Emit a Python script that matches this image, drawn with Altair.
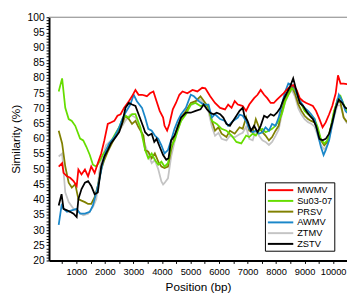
import altair as alt
import pandas as pd

series_names = ["MWMV", "Su03-07", "PRSV", "AWMV", "ZTMV", "ZSTV"]
series_colors = ["#ff0000", "#66dd00", "#808000", "#1a87c9", "#c4c4c4", "#000000"]

mwmv_pos = [380, 500, 550, 670, 780, 900, 1010, 1070, 1180, 1300, 1410, 1520, 1640, 1750, 1870, 1980,
            2100, 2210, 2330, 2440, 2550, 2670, 2840, 2950, 3070, 3180, 3300, 3410, 3470, 3580, 3700,
            3810, 3920, 4040, 4090, 4180, 4260, 4380, 4490, 4610, 4720, 4890, 5070, 5240, 5410, 5520,
            5690, 5860, 6040, 6210, 6320, 6440, 6550, 6660, 6760, 6830, 6950, 7060, 7230, 7350, 7460,
            7580, 7690, 7810, 7920, 8030, 8150, 8260, 8370, 8490, 8600, 8720, 8830, 8950, 9060, 9180,
            9290, 9400, 9520, 9630, 9740, 9860, 9970, 10090, 10170, 10260, 10370, 10490]
mwmv_val = [50.9, 52.0, 48.8, 47.7, 47.2, 46.1, 44.5, 49.9, 48.3, 49.9, 47.7, 50.9, 48.8, 52.0, 55.2, 59.5,
            64.9, 65.4, 65.9, 67.6, 68.1, 70.2, 72.4, 74.0, 76.1, 74.5, 74.5, 74.2, 74.0, 75.0, 75.6,
            72.4, 69.2, 67.0, 64.3, 62.7, 64.9, 69.7, 71.8, 74.5, 75.6, 75.0, 76.1, 75.6, 76.8, 76.6,
            74.0, 71.8, 70.2, 69.7, 71.3, 70.2, 72.4, 71.3, 71.0, 70.8, 69.2, 71.3, 73.4, 74.5, 76.1,
            74.5, 73.4, 71.8, 71.8, 72.9, 74.0, 75.0, 76.1, 77.2, 77.7, 76.1, 73.4, 72.4, 71.8, 71.3,
            70.8, 69.2, 66.5, 63.8, 65.4, 68.1, 70.8, 75.0, 80.9, 78.2, 78.2, 78.0]

su_pos = [380, 500, 610, 730, 840, 960, 1130, 1240, 1350, 1470, 1580, 1700, 1810, 1920, 2040, 2150,
          2330, 2500, 2610, 2720, 2840, 2950, 3070, 3240, 3410, 3520, 3640, 3750, 3870, 3980, 4090,
          4210, 4320, 4440, 4550, 4670, 4840, 5010, 5180, 5350, 5520, 5630, 5750, 5920, 6090, 6260,
          6440, 6610, 6780, 6950, 7060, 7180, 7290, 7400, 7520, 7630, 7750, 7860, 7980, 8090, 8200,
          8320, 8430, 8550, 8660, 8780, 8890, 9000, 9120, 9230, 9350, 9460, 9570, 9690, 9800, 9920,
          10030, 10150, 10260, 10370, 10490]
su_val = [75.6, 79.9, 70.2, 66.5, 65.9, 64.3, 60.1, 59.5, 57.4, 54.7, 51.5, 50.9, 52.5, 54.7, 56.3, 57.9,
          61.1, 63.8, 66.5, 67.6, 67.0, 68.1, 68.1, 63.8, 56.3, 53.6, 55.2, 53.1, 51.5, 52.5, 50.9,
          52.0, 57.4, 59.5, 62.7, 65.9, 68.1, 71.3, 71.8, 70.8, 71.3, 70.8, 65.9, 64.9, 63.3, 62.7,
          61.1, 59.0, 58.5, 61.1, 60.6, 61.7, 61.1, 62.7, 63.3, 62.2, 62.7, 63.3, 64.3, 65.9, 68.1,
          72.4, 74.5, 76.6, 76.1, 74.0, 71.3, 69.2, 68.1, 67.6, 66.5, 63.8, 60.0, 58.5, 59.5, 63.8,
          69.2, 72.4, 74.0, 71.3, 69.0]

prsv_pos = [380, 500, 610, 730, 840, 960, 1070, 1180, 1300, 1410, 1520, 1640, 1750, 1870, 1980, 2100,
            2270, 2440, 2550, 2720, 2840, 2950, 3070, 3180, 3350, 3410, 3520, 3640, 3750, 3870, 3980,
            4090, 4210, 4320, 4440, 4550, 4670, 4840, 5010, 5180, 5350, 5520, 5630, 5750, 5860, 5980,
            6090, 6260, 6380, 6550, 6720, 6830, 6950, 7060, 7180, 7290, 7400, 7520, 7630, 7750, 7860,
            7980, 8090, 8200, 8320, 8430, 8550, 8660, 8780, 8890, 9000, 9120, 9230, 9350, 9460, 9570,
            9690, 9800, 9920, 10030, 10150, 10260, 10370, 10490]
prsv_val = [62.7, 58.5, 50.9, 45.6, 44.0, 45.1, 40.2, 39.7, 39.2, 38.6, 38.6, 40.8, 44.5, 49.9, 53.1, 55.8,
            59.0, 62.2, 63.8, 67.6, 66.5, 64.9, 65.9, 63.8, 61.1, 56.3, 55.8, 53.6, 55.2, 52.5, 50.9,
            50.4, 50.9, 56.3, 60.6, 64.3, 67.0, 69.2, 71.8, 72.4, 74.0, 71.8, 70.2, 65.9, 62.7, 63.8,
            61.7, 60.6, 62.7, 61.7, 63.8, 63.3, 67.0, 62.7, 62.2, 66.5, 63.8, 62.2, 61.1, 59.5, 60.6,
            62.7, 64.3, 69.2, 73.4, 75.0, 77.2, 75.0, 71.3, 69.2, 67.6, 66.5, 65.9, 65.4, 62.7, 59.5,
            57.9, 59.0, 63.8, 68.6, 72.9, 71.8, 67.0, 65.5]

awmv_pos = [380, 480, 550, 670, 840, 1010, 1130, 1300, 1470, 1580, 1700, 1810, 1920, 2040, 2150, 2330,
            2500, 2610, 2720, 2890, 3010, 3120, 3300, 3410, 3520, 3640, 3750, 3870, 3980, 4090, 4210,
            4320, 4440, 4550, 4670, 4840, 5010, 5120, 5290, 5460, 5630, 5750, 5860, 6040, 6210, 6320,
            6490, 6660, 6720, 6830, 6950, 7060, 7180, 7290, 7400, 7520, 7630, 7750, 7860, 7980, 8090,
            8200, 8320, 8430, 8550, 8660, 8780, 8890, 9000, 9120, 9230, 9350, 9460, 9570, 9665, 9740,
            9860, 9970, 10090, 10200, 10320, 10430, 10490]
awmv_val = [31.7, 38.1, 37.0, 36.0, 36.5, 37.0, 35.4, 35.4, 36.0, 38.1, 42.4, 46.7, 52.0, 56.3, 58.5, 60.6,
            63.8, 66.5, 68.6, 71.3, 74.5, 72.4, 70.2, 67.0, 63.3, 62.7, 61.1, 60.0, 57.9, 55.2, 56.3,
            59.5, 63.3, 65.9, 68.1, 70.2, 74.5, 74.0, 72.4, 71.3, 71.3, 67.0, 68.1, 66.5, 65.9, 64.3,
            65.9, 67.0, 68.0, 67.6, 65.9, 63.3, 62.2, 62.7, 61.7, 62.2, 63.8, 62.7, 64.9, 64.3, 67.0,
            71.3, 75.6, 78.2, 77.7, 76.6, 73.4, 71.8, 70.2, 69.2, 68.1, 66.5, 61.7, 57.4, 54.7, 56.3,
            59.5, 64.9, 70.2, 74.5, 72.4, 69.2, 68.5]

ztmv_pos = [380, 500, 610, 730, 900, 1070, 1240, 1410, 1580, 1700, 1810, 1920, 2040, 2210, 2380, 2550,
            2720, 2890, 3070, 3240, 3410, 3520, 3640, 3750, 3870, 3980, 4040, 4090, 4210, 4320, 4440,
            4550, 4670, 4840, 5010, 5180, 5350, 5520, 5630, 5750, 5860, 5980, 6090, 6260, 6380, 6550,
            6720, 6830, 6950, 7060, 7180, 7290, 7400, 7520, 7630, 7750, 7860, 7980, 8090, 8200, 8320,
            8430, 8550, 8660, 8780, 8890, 9000, 9120, 9230, 9350, 9460, 9570, 9690, 9800, 9920, 10030,
            10150, 10260, 10370, 10490]
ztmv_val = [54.2, 55.2, 42.4, 39.2, 37.0, 36.0, 34.9, 35.4, 37.6, 40.2, 49.9, 54.2, 57.9, 59.5, 60.6, 63.3,
            66.0, 68.0, 67.0, 64.0, 58.0, 55.0, 52.0, 53.0, 50.0, 46.0, 45.0, 45.5, 47.0, 54.0, 59.0,
            63.0, 66.0, 69.0, 71.0, 72.0, 73.0, 71.0, 69.0, 64.0, 61.0, 62.0, 60.0, 59.5, 61.0, 60.5,
            61.5, 62.0, 64.0, 60.0, 59.5, 63.0, 61.0, 59.5, 59.0, 58.0, 59.0, 61.0, 63.0, 68.0, 72.0,
            74.5, 76.0, 74.0, 70.0, 68.0, 66.5, 65.5, 65.0, 64.0, 61.0, 58.0, 56.5, 58.0, 62.5, 67.0,
            71.0, 71.0, 67.0, 65.0]

zstv_pos = [380, 480, 550, 670, 780, 900, 1010, 1070, 1180, 1300, 1410, 1520, 1640, 1750, 1870, 1980,
            2100, 2210, 2330, 2500, 2610, 2720, 2840, 2950, 3070, 3180, 3350, 3410, 3520, 3640, 3730,
            3810, 3920, 4040, 4150, 4230, 4320, 4440, 4550, 4670, 4840, 5010, 5180, 5350, 5460, 5580,
            5690, 5810, 5920, 6040, 6150, 6260, 6380, 6490, 6610, 6720, 6830, 6890, 7000, 7120, 7230,
            7350, 7460, 7580, 7690, 7810, 7920, 8030, 8150, 8260, 8370, 8490, 8600, 8720, 8830, 8950,
            9060, 9180, 9290, 9400, 9520, 9630, 9740, 9860, 9970, 10090, 10200, 10320, 10430, 10490]
zstv_val = [38.1, 41.8, 37.0, 36.5, 36.0, 35.4, 34.3, 40.2, 43.5, 45.6, 46.1, 44.5, 41.8, 42.4, 50.9, 54.2,
            56.3, 58.5, 60.0, 62.2, 65.4, 70.2, 71.8, 71.3, 70.8, 68.1, 63.8, 62.2, 61.1, 61.7, 59.0,
            60.0, 57.4, 54.7, 53.1, 53.6, 59.5, 61.1, 63.8, 67.0, 68.6, 68.6, 69.2, 69.7, 71.3, 69.7,
            68.6, 68.1, 68.6, 68.1, 67.0, 64.9, 64.3, 65.9, 67.6, 69.2, 70.2, 67.6, 65.9, 62.7, 64.3,
            62.2, 64.3, 67.6, 67.0, 68.1, 67.6, 68.6, 70.2, 72.9, 75.0, 77.2, 79.9, 75.6, 71.8, 70.8,
            69.2, 67.6, 66.5, 64.3, 60.0, 59.5, 60.0, 61.7, 65.4, 70.2, 72.9, 71.8, 70.2, 70.0]

all_pos = {"MWMV": mwmv_pos, "Su03-07": su_pos, "PRSV": prsv_pos,
           "AWMV": awmv_pos, "ZTMV": ztmv_pos, "ZSTV": zstv_pos}
all_val = {"MWMV": mwmv_val, "Su03-07": su_val, "PRSV": prsv_val,
           "AWMV": awmv_val, "ZTMV": ztmv_val, "ZSTV": zstv_val}

rows = []
for name in series_names:
    for p, v in zip(all_pos[name], all_val[name]):
        rows.append({"series": name, "pos": p, "sim": v})
df = pd.DataFrame(rows)

x_ticks = list(range(500, 10001, 500))
y_ticks = list(range(20, 101))

W, H = 305, 249

x_enc = alt.X("pos:Q", scale=alt.Scale(domain=[41, 10486], nice=False, zero=False),
              axis=alt.Axis(title="Position (bp)", values=x_ticks, format="d",
                            labelExpr="datum.value % 1000 == 0 ? datum.label : ''",
                            grid=False, domainColor="black", domainWidth=2, tickColor="black",
                            tickSize=3, tickWidth=1, labelFontSize=9.5, labelPadding=3,
                            labelFlush=False, labelOverlap=False, titleFontSize=12,
                            titleFontWeight="normal", titlePadding=6, labelColor="black",
                            titleColor="black"))
y_enc = alt.Y("sim:Q", scale=alt.Scale(domain=[20, 100], nice=False, zero=False),
              axis=alt.Axis(title="Similarity (%)", values=y_ticks,
                            labelExpr="datum.value % 5 == 0 ? datum.label : ''",
                            grid=False, domainColor="black", domainWidth=2, tickColor="black",
                            tickSize=3, tickWidth=1, labelFontSize=10.5, labelPadding=2,
                            labelOverlap=False, titleFontSize=12, titleFontWeight="normal",
                            titlePadding=5, labelColor="black", titleColor="black"))
color_enc = alt.Color("series:N", title=None,
                      scale=alt.Scale(domain=series_names, range=series_colors),
                      legend=alt.Legend(orient="none", legendX=221, legendY=169,
                                        symbolType="M-1,0L4.2,0", symbolSize=100, symbolStrokeWidth=2,
                                        labelFontSize=9.5, labelOffset=19, rowPadding=0,
                                        padding=2, strokeColor="black", fillColor="white",
                                        labelColor="black",
                                        labelExpr="datum.label + '\u00a0\u00a0\u00a0\u00a0\u00a0\u00a0\u00a0\u00a0\u00a0\u00a0'"))

draw_order = ["ZTMV", "PRSV", "Su03-07", "AWMV", "MWMV", "ZSTV"]
layers = []
for name in draw_order:
    layers.append(
        alt.Chart(df).transform_filter(alt.datum.series == name)
        .mark_line(strokeWidth=1.8, clip=True)
        .encode(x=x_enc, y=y_enc, color=color_enc)
    )

top_line = alt.Chart(pd.DataFrame({"a": [0]})).mark_rule(color="#808080", strokeWidth=1).encode(
    x=alt.value(0), x2=alt.value(W), y=alt.value(0))

chart = alt.layer(*layers, top_line).properties(
    width=W, height=H,
    autosize=alt.AutoSizeParams(type="none"),
    padding={"left": 42, "top": 6, "right": 0, "bottom": 38},
).configure(font="Liberation Sans").configure_view(stroke="transparent")

chart.save("out.html", embed_options={"renderer": "svg", "actions": False})
